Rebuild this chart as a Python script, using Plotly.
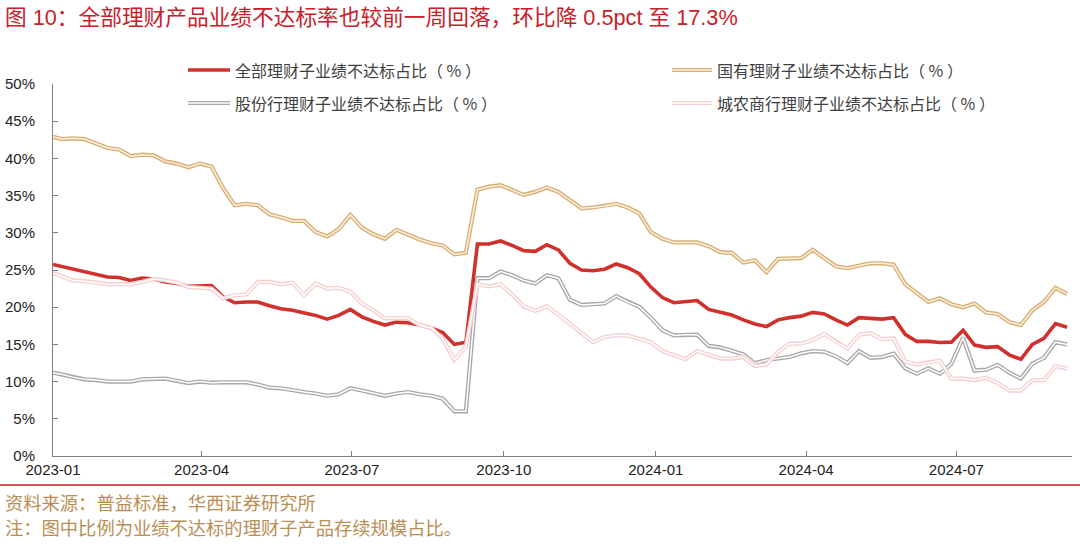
import pandas as pd
import plotly.graph_objects as go

# ---------------- data ----------------
dates = [pd.Timestamp("2023-01-01")] + list(pd.date_range("2023-01-06", periods=88, freq="7D"))

all_pct = [25.75, 25.5, 25.1, 24.8, 24.4, 24.05, 24.0, 23.6, 23.9, 23.8,
           23.4, 23.2, 22.8, 22.9, 22.9, 21.4, 20.6, 20.7, 20.7, 20.2,
           19.8, 19.6, 19.3, 18.9, 18.4, 18.9, 19.7, 18.7, 18.1, 17.6,
           18.0, 17.9, 17.6, 17.2, 16.6, 15.0, 15.3, 28.5, 28.5, 28.9,
           28.3, 27.6, 27.5, 28.4, 27.7, 25.9, 25.0, 24.9, 25.1, 25.8,
           25.3, 24.5, 22.7, 21.3, 20.6, 20.7, 20.9, 19.7, 19.3, 18.95,
           18.3, 17.75, 17.4, 18.3, 18.6, 18.8, 19.3, 19.1, 18.3, 17.6,
           18.6, 18.5, 18.4, 18.6, 16.35, 15.4, 15.4, 15.25, 15.3, 16.9,
           14.9, 14.6, 14.7, 13.6, 13.0, 15.0, 15.8, 17.8, 17.3]

state_pct = [42.9, 42.6, 42.7, 42.6, 42.0, 41.4, 41.2, 40.3, 40.5, 40.4,
             39.6, 39.3, 38.8, 39.3, 38.9, 36.0, 33.7, 33.9, 33.7, 32.5,
             32.1, 31.6, 31.6, 30.1, 29.5, 30.5, 32.4, 30.7, 29.8, 29.2,
             30.4, 29.7, 29.1, 28.6, 28.3, 27.1, 27.3, 35.8, 36.2, 36.4,
             35.7, 35.1, 35.5, 36.1, 35.5, 34.4, 33.3, 33.4, 33.6, 33.9,
             33.4, 32.6, 30.1, 29.2, 28.7, 28.7, 28.7, 28.2, 27.4, 27.3,
             26.0, 26.3, 24.7, 26.5, 26.6, 26.6, 27.7, 26.6, 25.5, 25.25,
             25.6, 25.9, 25.9, 25.7, 23.1, 21.9, 20.7, 21.2, 20.4, 20.0,
             20.5, 19.3, 19.1, 18.0, 17.6, 19.6, 20.7, 22.6, 21.8]

joint_pct = [11.2, 11.0, 10.6, 10.3, 10.2, 10.0, 10.0, 10.0, 10.3, 10.3,
             10.4, 10.1, 9.8, 10.0, 9.85, 9.9, 9.9, 9.9, 9.6, 9.2,
             9.1, 8.8, 8.6, 8.4, 8.1, 8.3, 9.1, 8.8, 8.5, 8.1,
             8.4, 8.6, 8.3, 8.1, 7.7, 6.0, 6.0, 23.9, 23.9, 24.8,
             24.3, 23.6, 23.2, 24.3, 23.9, 21.0, 20.3, 20.4, 20.5, 21.5,
             20.7, 20.05, 18.6, 16.9, 16.2, 16.3, 16.3, 14.8, 14.6, 14.15,
             13.65, 12.45, 12.9, 13.1, 13.3, 13.8, 14.1, 14.0, 13.4, 12.5,
             14.1, 13.2, 13.3, 13.75, 11.8, 11.05, 11.8, 11.05, 12.4, 15.9,
             11.5, 11.6, 12.25, 11.2, 10.4, 12.4, 13.2, 15.3, 15.0]

rural_pct = [24.6, 24.2, 23.6, 23.5, 23.3, 23.1, 23.1, 23.1, 23.4, 23.8,
             23.6, 23.3, 22.7, 22.6, 22.5, 21.2, 21.6, 21.7, 23.4, 23.4,
             23.1, 23.3, 21.6, 23.2, 22.5, 22.6, 22.1, 20.5, 19.6, 18.5,
             18.5, 18.5, 17.6, 17.2, 15.8, 12.9, 14.7, 23.1, 22.8, 23.1,
             21.7, 20.1, 19.5, 20.1, 19.0, 17.8, 16.5, 15.3, 16.0, 16.2,
             16.2, 15.8, 15.3, 14.1, 13.6, 13.0, 14.1, 13.65, 13.1, 13.1,
             13.3, 12.1, 12.3, 14.0, 15.1, 15.1, 15.6, 16.4, 15.35, 14.45,
             16.3, 16.5, 15.7, 15.8, 12.7, 12.3, 12.6, 12.8, 10.4, 10.4,
             10.2, 10.5, 9.8, 8.8, 8.8, 10.2, 10.2, 12.1, 11.75]

series_names = ["全部理财子业绩不达标占比（ % ）", "国有理财子业绩不达标占比（ % ）",
                "股份行理财子业绩不达标占比（ % ）", "城农商行理财子业绩不达标占比（ % ）"]

title_text = "图 10：全部理财产品业绩不达标率也较前一周回落，环比降 0.5pct 至 17.3%"
source_text = "资料来源：普益标准，华西证券研究所"
note_text = "注：图中比例为业绩不达标的理财子产品存续规模占比。"

# ---------------- styles ----------------
RED = "#D0312D"
GOLD_OUT, GOLD_IN = "#D8AE72", "#FBF1E2"
GRAY_OUT, GRAY_IN = "#A8A8A8", "#FFFFFF"
PINK_OUT, PINK_IN = "#F6CFCF", "#FFFFFF"
CJK = "Noto Sans CJK SC"
LAT = "Liberation Sans, Arial"

W, H = 1080, 549
L, R, T, B = 53, 8, 84, 93
PW, PH = W - L - R, H - T - B

fig = go.Figure()

def add_series(y, outer, inner, w_out=4.2, w_in=1.5, solid=False):
    fig.add_trace(go.Scatter(x=dates, y=y, mode="lines",
                             line=dict(color=outer, width=w_out),
                             hoverinfo="skip", showlegend=False))
    if not solid:
        fig.add_trace(go.Scatter(x=dates, y=y, mode="lines",
                                 line=dict(color=inner, width=w_in),
                                 hoverinfo="skip", showlegend=False))

add_series(all_pct, RED, None, w_out=3.6, solid=True)
add_series(state_pct, GOLD_OUT, GOLD_IN)
add_series(joint_pct, GRAY_OUT, GRAY_IN)
add_series(rural_pct, PINK_OUT, PINK_IN)

def fx(px):
    return (px - L) / PW

def fy(py):
    return (H - B - py) / PH

# ---------------- manual legend ----------------
legend_items = [
    (series_names[0], 188, 230, 70, RED, None),
    (series_names[1], 672, 712, 70, GOLD_OUT, GOLD_IN),
    (series_names[2], 188, 230, 103, GRAY_OUT, GRAY_IN),
    (series_names[3], 672, 712, 103, PINK_OUT, PINK_IN),
]
shapes = []
annotations = []
for name, x0, x1, yy, c_out, c_in in legend_items:
    shapes.append(dict(type="line", xref="paper", yref="paper",
                       x0=fx(x0), x1=fx(x1), y0=fy(yy), y1=fy(yy),
                       line=dict(color=c_out, width=3.6 if c_in is None else 4.2)))
    if c_in is not None:
        shapes.append(dict(type="line", xref="paper", yref="paper",
                           x0=fx(x0), x1=fx(x1), y0=fy(yy), y1=fy(yy),
                           line=dict(color=c_in, width=1.5)))
    annotations.append(dict(text=name, xref="paper", yref="paper",
                            x=fx(x1 + 3), y=fy(yy),
                            xanchor="left", yanchor="middle", showarrow=False,
                            font=dict(family=CJK, size=16, color="#404040")))

# title
annotations.append(dict(text=title_text, xref="paper", yref="paper",
                        x=fx(3), y=fy(18),
                        xanchor="left", yanchor="middle", showarrow=False,
                        font=dict(family=LAT + ", " + CJK, size=21.7, color="#C8202A")))
# footnotes
annotations.append(dict(text=source_text, xref="paper", yref="paper",
                        x=fx(3), y=fy(502),
                        xanchor="left", yanchor="middle", showarrow=False,
                        font=dict(family=CJK, size=18.3, color="#B98E55")))
annotations.append(dict(text=note_text, xref="paper", yref="paper",
                        x=fx(3), y=fy(527),
                        xanchor="left", yanchor="middle", showarrow=False,
                        font=dict(family=CJK, size=18.3, color="#B98E55")))
# red separator line under axis labels
shapes.append(dict(type="line", xref="paper", yref="paper",
                   x0=fx(0), x1=fx(W), y0=fy(485), y1=fy(485),
                   line=dict(color="#C8202A", width=1.5)))

fig.update_layout(
    width=W, height=H,
    margin=dict(l=L, r=R, t=T, b=B, autoexpand=False),
    paper_bgcolor="white", plot_bgcolor="white",
    showlegend=False,
    shapes=shapes, annotations=annotations,
    xaxis=dict(
        type="date", automargin=False,
        range=["2023-01-01", "2024-09-09"],
        tick0="2023-01-01", dtick="M3", tickformat="%Y-%m",
        ticks="inside", ticklen=5, tickcolor="#808080",
        showline=True, linecolor="#808080", linewidth=1,
        showgrid=False, zeroline=False,
        tickfont=dict(family=LAT, size=15, color="#222222"),
    ),
    yaxis=dict(
        range=[0, 50], dtick=5, ticksuffix="%", automargin=False,
        ticks="inside", ticklen=5, tickcolor="#808080",
        showline=True, linecolor="#808080", linewidth=1,
        showgrid=False, zeroline=False,
        ticklabelstandoff=14,
        tickfont=dict(family=LAT, size=15, color="#222222"),
    ),
)

fig.write_html("out.html",
               config={"displayModeBar": False},
               post_script="document.body.style.margin='0px';document.body.style.padding='0px';")
